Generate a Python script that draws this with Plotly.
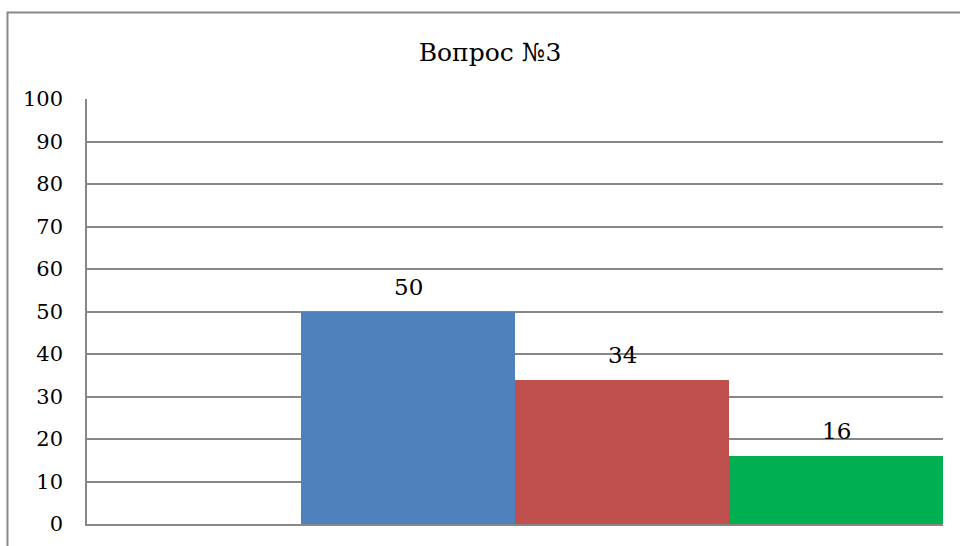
import plotly.graph_objects as go

categories = ["Вариант 0", "Вариант 1", "Вариант 2", "Вариант 3"]
values = [None, 50, 34, 16]
colors = ["#4F81BD", "#4F81BD", "#C0504D", "#00AF50"]
labels = ["", "50", "34", "16"]
y_ticks = [0, 10, 20, 30, 40, 50, 60, 70, 80, 90, 100]

FONT = "DejaVu Serif"

fig = go.Figure()
fig.add_trace(go.Bar(
    x=categories, y=values,
    marker=dict(color=colors, line=dict(width=0)),
    hoverinfo="x+y",
))

for c, v, t in zip(categories, values, labels):
    if v is None:
        continue
    fig.add_annotation(x=c, y=v, text=t, showarrow=False, yanchor="middle",
                       yshift=25, font=dict(family=FONT, size=23, color="#000000"))

L, R, T, B = 87, 17, 99, 22
W, H = 960, 546
pw = W - L - R
ph = H - T - B

fig.add_shape(type="rect", xref="paper", yref="paper",
              x0=(7.5 - L) / pw, x1=(965 - L) / pw,
              y0=(H - B - 555) / ph, y1=(H - B - 12.5) / ph,
              line=dict(color="#878787", width=2), fillcolor="rgba(0,0,0,0)", layer="below")

fig.update_layout(
    width=W, height=H,
    margin=dict(l=L, r=R, t=T, b=B, autoexpand=False),
    paper_bgcolor="white", plot_bgcolor="white",
    bargap=0, showlegend=False,
    title=dict(text="Вопрос №3", x=(490 - L) / pw, xref="paper", xanchor="center",
               y=1 - 52 / H, yanchor="middle", automargin=False,
               font=dict(family=FONT, size=25, color="#000000")),
    font=dict(family=FONT, size=21, color="#000000"),
)
fig.update_xaxes(showticklabels=False, showgrid=False, zeroline=False, automargin=False,
                 showline=True, linecolor="#878787", linewidth=2, mirror=False)
fig.update_yaxes(range=[0, 100], tickvals=y_ticks, showgrid=True, gridcolor="#878787",
                 gridwidth=1.5, zeroline=False, showline=True, linecolor="#878787",
                 linewidth=1.5, ticks="", ticklabelstandoff=18, automargin=False,
                 tickfont=dict(family=FONT, size=21, color="#000000"))

fig.write_html("out.html")
